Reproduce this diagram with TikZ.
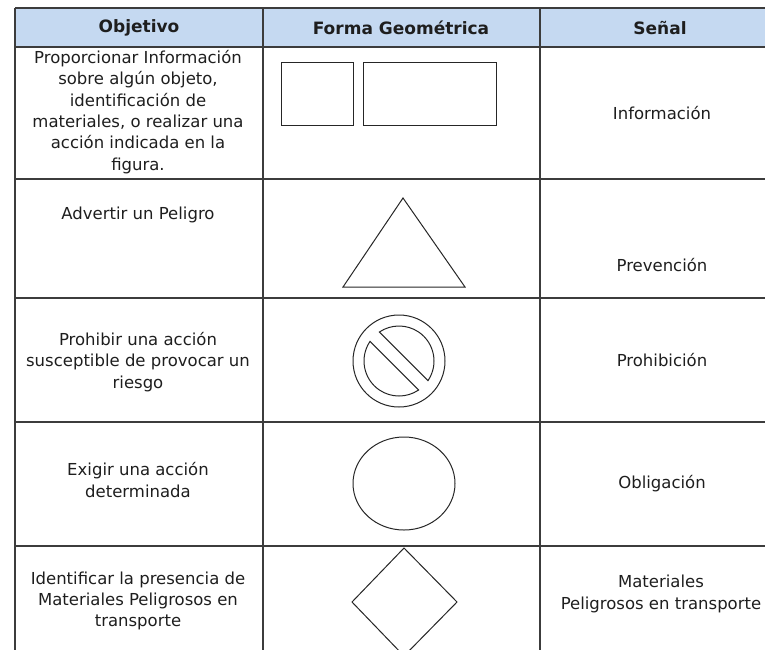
\documentclass[tikz,border=0pt]{standalone}
\usepackage{fontspec}
\setmainfont{DejaVu Sans}
\definecolor{hdrfill}{RGB}{197,217,241}
\definecolor{txtcol}{RGB}{30,30,30}
\definecolor{gridcol}{RGB}{60,60,60}
\tikzset{
  gridline/.style={draw=gridcol, line width=1.1pt},
  shapeline/.style={draw=black!85, line width=1pt},
  celltext/.style={font=\fontsize{16.5}{21.3}\selectfont, align=center, text=txtcol, inner sep=0pt},
  hdrtext/.style={font=\fontsize{17}{20}\selectfont\bfseries, align=center, text=txtcol, inner sep=0pt}
}
\begin{document}
\begin{tikzpicture}[x=1pt,y=-1pt]
\useasboundingbox (0,0) rectangle (765,649);
\clip (0,0) rectangle (765,649);
% header background
\fill[hdrfill] (15,8) rectangle (770,47);
% horizontal lines
\foreach \yy in {8,47,179,298,422,546} {
  \draw[gridline] (15,\yy) -- (770,\yy);
}
% vertical lines
\foreach \xx in {15,263,540} {
  \draw[gridline] (\xx,8) -- (\xx,655);
}
% header
\node[hdrtext] (h1) at (139,28) {Objetivo};
\node[hdrtext] (h2) at (401,28) {Forma Geométrica};
\node[hdrtext] (h3) at (660,28) {Señal};
% column 1
\node[celltext] (o1) at (138,112) {Proporcionar Información\\sobre algún objeto,\\identificación de\\materiales, o realizar una\\acción indicada en la\\figura.};
\node[celltext] (o2) at (138,215) {Advertir un Peligro};
\node[celltext] (o3) at (138,362) {Prohibir una acción\\susceptible de provocar un\\riesgo};
\node[celltext] (o4) at (138,480) {Exigir una acción\\determinada};
\node[celltext] (o5) at (138,601) {Identificar la presencia de\\Materiales Peligrosos en\\transporte};
% column 3
\node[celltext] (s1) at (662,113) {Información};
\node[celltext] (s2) at (662,265) {Prevención};
\node[celltext] (s3) at (662,360) {Prohibición};
\node[celltext] (s4) at (662,484) {Obligación};
\node[celltext] (s5) at (661,594) {Materiales\\Peligrosos en transporte};
% shapes
\draw[shapeline] (281,62) rectangle (353,125);
\draw[shapeline] (363,62) rectangle (496,125);
\draw[shapeline, line join=miter] (403,198) -- (465,287) -- (343,287) -- cycle;
\begin{scope}[shift={(399,361)}, x=1pt, y=1pt]
  \draw[shapeline] (0,0) circle[radius=46pt];
  \draw[shapeline] (-34:35pt) arc[start angle=-34, end angle=124, radius=35pt] -- cycle;
  \draw[shapeline] (146:35pt) arc[start angle=146, end angle=304, radius=35pt] -- cycle;
\end{scope}
\draw[shapeline] (404,483.5) ellipse[x radius=51pt, y radius=46.5pt];
\draw[shapeline] (404,548) -- (457,602) -- (404,656) -- (352,602) -- cycle;
\end{tikzpicture}
\end{document}
